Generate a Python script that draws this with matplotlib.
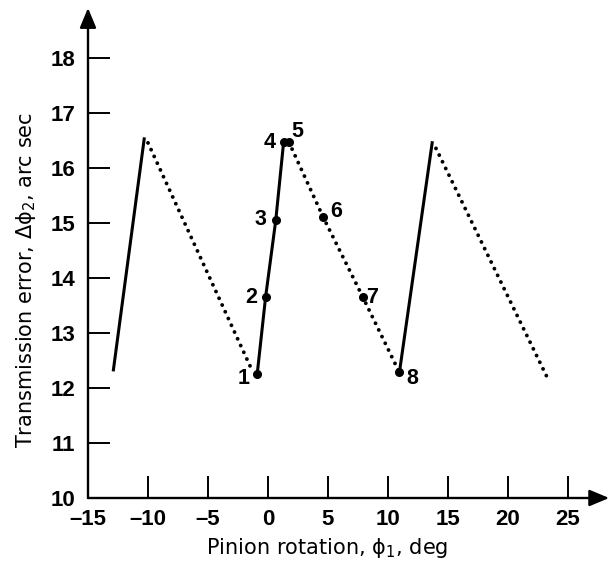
import matplotlib
matplotlib.use("Agg")
import matplotlib.pyplot as plt

# Transmission error over pinion rotation: solid = rising part, dotted = falling part
rise_a_x = [-12.9, -10.3]
rise_a_y = [12.3, 16.55]
fall_a_x = [-10.0, -1.5]
fall_a_y = [16.45, 12.4]

# Labelled contact points 1-4 (rising) and 5-8 (falling)
rise_b_x = [-0.9, -0.2, 0.65, 1.3]
rise_b_y = [12.25, 13.65, 15.05, 16.46]
fall_b_x = [1.75, 4.6, 7.9, 10.95]
fall_b_y = [16.46, 15.1, 13.65, 12.28]

rise_c_x = [10.95, 13.7]
rise_c_y = [12.28, 16.48]
fall_c_x = [14.0, 23.2]
fall_c_y = [16.35, 12.22]

point_labels = ["1", "2", "3", "4", "5", "6", "7", "8"]
x_ticks = [-15, -10, -5, 0, 5, 10, 15, 20, 25]
y_ticks = [10, 11, 12, 13, 14, 15, 16, 17, 18]

plt.rcParams["font.family"] = ["DejaVu Sans"]
plt.rcParams["mathtext.fontset"] = "dejavusans"
plt.rcParams["mathtext.default"] = "regular"

W, H = 610, 565
fig = plt.figure(figsize=(W / 100, H / 100), dpi=100)
x0, y0, x1, y1 = 88, 498, 604, 8
ax = fig.add_axes([x0 / W, 1 - y0 / H, (x1 - x0) / W, (y0 - y1) / H])
ax.set_xlim(-15, 28)
ax.set_ylim(10, 18.9)

for s in ax.spines.values():
    s.set_visible(False)

# axis lines with arrow heads
arrow_kw = dict(arrowstyle="-|>,head_length=1.2,head_width=0.5", color="black",
                lw=1.7, shrinkA=0, shrinkB=0)
ax.annotate("", xy=(1.01, 0), xytext=(0, 0), xycoords="axes fraction",
            arrowprops=arrow_kw, annotation_clip=False)
ax.annotate("", xy=(0, 1.0), xytext=(0, 0), xycoords="axes fraction",
            arrowprops=arrow_kw, annotation_clip=False)

tick_font = dict(family="Liberation Sans", weight="bold", size=16)
ax.set_xticks(x_ticks)
ax.set_yticks(y_ticks)
ax.set_xticklabels([f"{v}".replace("-", "\u2013") for v in x_ticks], fontdict=tick_font)
ax.set_yticklabels([f"{v}" for v in y_ticks], fontdict=tick_font)
ax.tick_params(direction="in", length=16, width=1.4, pad=9)
ax.tick_params(axis="x", pad=8)

solid_kw = dict(color="black", lw=2.2, solid_capstyle="butt")
dot_kw = dict(color="black", lw=2.8, linestyle=(0, (0.01, 1.9)),
              dash_capstyle="round")

ax.plot(rise_a_x, rise_a_y, **solid_kw)
ax.plot(fall_a_x, fall_a_y, **dot_kw)
ax.plot(rise_b_x, rise_b_y, **solid_kw)
ax.plot(fall_b_x, fall_b_y, **dot_kw)
ax.plot(rise_c_x, rise_c_y, **solid_kw)
ax.plot(fall_c_x, fall_c_y, **dot_kw)

pts_x = rise_b_x + fall_b_x
pts_y = rise_b_y + fall_b_y
ax.plot(pts_x, pts_y, "o", color="black", markersize=5.5, linestyle="none")

offsets = [(-10, -3), (-10, 0), (-11, 0), (-10, 0),
           (6, 8), (9, 4), (7, 0), (9, -4)]
for lab, px, py, (dx, dy) in zip(point_labels, pts_x, pts_y, offsets):
    ax.annotate(lab, (px, py), xytext=(dx, dy), textcoords="offset points",
                ha="center", va="center", family="Liberation Sans",
                weight="bold", fontsize=15.5)

fig.text(327 / W, 1 - 548 / H, r"Pinion rotation, $\phi_1$, deg",
         ha="center", va="center", fontsize=15)
fig.text(26 / W, 1 - 280 / H, r"Transmission error, $\Delta\phi_2$, arc sec",
         ha="center", va="center", rotation=90, fontsize=15)

fig.savefig("out.png", dpi=100)
